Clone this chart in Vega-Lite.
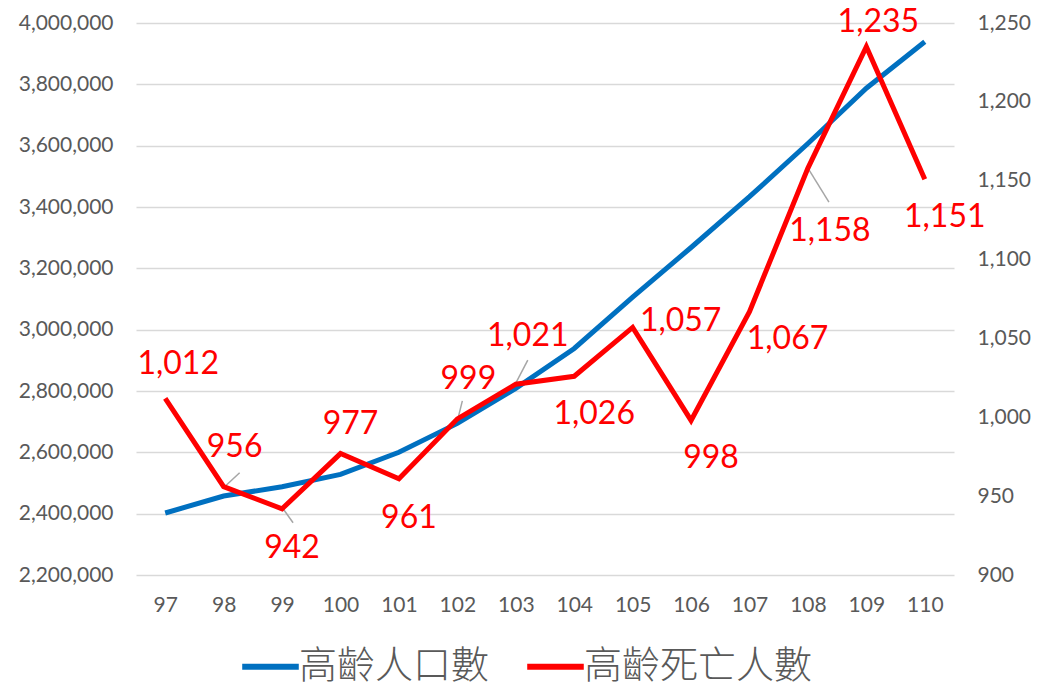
{
  "$schema": "https://vega.github.io/schema/vega-lite/v6.json",
  "autosize": {"type": "none"},
  "width": 818,
  "height": 552,
  "padding": {"left": 136, "top": 23, "right": 84, "bottom": 108},
  "background": "white",
  "config": {
    "view": {"stroke": null},
    "font": "Lato",
    "axis": {"labelFont": "Lato", "labelFontSize": 21, "labelColor": "#595959", "ticks": false, "domain": false, "title": null, "gridColor": "#d9d9d9", "gridWidth": 1.3}
  },
  "data": {
    "values": [
      {"year": 97, "pop": 2402220, "deaths": 1012},
      {"year": 98, "pop": 2457648, "deaths": 956},
      {"year": 99, "pop": 2487893, "deaths": 942},
      {"year": 100, "pop": 2528249, "deaths": 977},
      {"year": 101, "pop": 2600152, "deaths": 961},
      {"year": 102, "pop": 2694406, "deaths": 999},
      {"year": 103, "pop": 2808690, "deaths": 1021},
      {"year": 104, "pop": 2938579, "deaths": 1026},
      {"year": 105, "pop": 3106105, "deaths": 1057},
      {"year": 106, "pop": 3268013, "deaths": 998},
      {"year": 107, "pop": 3433517, "deaths": 1067},
      {"year": 108, "pop": 3607127, "deaths": 1158},
      {"year": 109, "pop": 3787315, "deaths": 1235},
      {"year": 110, "pop": 3939033, "deaths": 1151}
    ]
  },
  "encoding": {
    "x": {"field": "year", "type": "ordinal", "scale": {"type": "point", "padding": 0.5}, "axis": {"labelAngle": 0, "labelPadding": 19, "grid": false}}
  },
  "layer": [
    {
      "mark": {"type": "line", "strokeWidth": 5},
      "encoding": {
        "y": {"field": "pop", "type": "quantitative", "scale": {"domain": [2200000, 4000000], "nice": false, "zero": false}, "axis": {"orient": "left", "values": [2200000, 2400000, 2600000, 2800000, 3000000, 3200000, 3400000, 3600000, 3800000, 4000000], "format": ",.0f", "labelPadding": 23, "grid": true}},
        "color": {"datum": "高齡人口數", "type": "nominal", "scale": {"domain": ["高齡人口數", "高齡死亡人數"], "range": ["#0070C0", "#FF0000"]},
          "legend": {"title": null, "orient": "none", "legendX": 103, "legendY": 612, "direction": "horizontal", "symbolType": "stroke", "symbolSize": 3200, "symbolStrokeWidth": 6, "labelFont": "Noto Sans CJK TC", "labelFontWeight": 300, "labelFontSize": 38, "labelColor": "#595959", "labelOffset": -3, "columnPadding": 25, "labelLimit": 400}}
      }
    },
    {
      "encoding": {
        "y": {"field": "deaths", "type": "quantitative", "scale": {"domain": [900, 1250], "nice": false, "zero": false}, "axis": {"orient": "right", "values": [900, 950, 1000, 1050, 1100, 1150, 1200, 1250], "format": ",.0f", "labelPadding": 23, "grid": false}}
      },
      "layer": [
        {
          "transform": [{"filter": {"field": "year", "equal": 98}}],
          "mark": {"type": "rule", "color": "#a6a6a6", "strokeWidth": 1.5, "xOffset": 2, "yOffset": -1, "x2Offset": 16, "y2Offset": -14},
          "encoding": {"x2": {"field": "year"}, "y2": {"field": "deaths"}}
        },
        {
          "transform": [{"filter": {"field": "year", "equal": 99}}],
          "mark": {"type": "rule", "color": "#a6a6a6", "strokeWidth": 1.5, "xOffset": 1, "yOffset": 0, "x2Offset": 11, "y2Offset": 14},
          "encoding": {"x2": {"field": "year"}, "y2": {"field": "deaths"}}
        },
        {
          "transform": [{"filter": {"field": "year", "equal": 102}}],
          "mark": {"type": "rule", "color": "#a6a6a6", "strokeWidth": 1.5, "xOffset": 1, "yOffset": -2, "x2Offset": 5, "y2Offset": -18},
          "encoding": {"x2": {"field": "year"}, "y2": {"field": "deaths"}}
        },
        {
          "transform": [{"filter": {"field": "year", "equal": 103}}],
          "mark": {"type": "rule", "color": "#a6a6a6", "strokeWidth": 1.5, "xOffset": 0, "yOffset": -1, "x2Offset": 12, "y2Offset": -24},
          "encoding": {"x2": {"field": "year"}, "y2": {"field": "deaths"}}
        },
        {
          "transform": [{"filter": {"field": "year", "equal": 108}}],
          "mark": {"type": "rule", "color": "#a6a6a6", "strokeWidth": 1.5, "xOffset": 0, "yOffset": 0, "x2Offset": 21, "y2Offset": 34},
          "encoding": {"x2": {"field": "year"}, "y2": {"field": "deaths"}}
        },
        {
          "mark": {"type": "line", "strokeWidth": 5},
          "encoding": {"color": {"datum": "高齡死亡人數", "type": "nominal"}}
        },
        {
          "transform": [{"filter": {"field": "year", "oneOf": [98, 102]}}],
          "mark": {"type": "text", "fontSize": 32, "color": "#FF0000", "dx": 11, "dy": -40},
          "encoding": {"text": {"field": "deaths", "type": "quantitative", "format": ","}}
        },
        {
          "transform": [{"filter": {"field": "year", "equal": 97}}],
          "mark": {"type": "text", "fontSize": 32, "color": "#FF0000", "dx": 13, "dy": -34},
          "encoding": {"text": {"field": "deaths", "type": "quantitative", "format": ","}}
        },
        {
          "transform": [{"filter": {"field": "year", "equal": 100}}],
          "mark": {"type": "text", "fontSize": 32, "color": "#FF0000", "dx": 10, "dy": -30},
          "encoding": {"text": {"field": "deaths", "type": "quantitative", "format": ","}}
        },
        {
          "transform": [{"filter": {"field": "year", "equal": 103}}],
          "mark": {"type": "text", "fontSize": 32, "color": "#FF0000", "dx": 12, "dy": -48},
          "encoding": {"text": {"field": "deaths", "type": "quantitative", "format": ","}}
        },
        {
          "transform": [{"filter": {"field": "year", "equal": 109}}],
          "mark": {"type": "text", "fontSize": 32, "color": "#FF0000", "dx": 12, "dy": -25},
          "encoding": {"text": {"field": "deaths", "type": "quantitative", "format": ","}}
        },
        {
          "transform": [{"filter": {"field": "year", "oneOf": [99, 101]}}],
          "mark": {"type": "text", "fontSize": 32, "color": "#FF0000", "dx": 10, "dy": 39},
          "encoding": {"text": {"field": "deaths", "type": "quantitative", "format": ","}}
        },
        {
          "transform": [{"filter": {"field": "year", "oneOf": [104, 106, 110]}}],
          "mark": {"type": "text", "fontSize": 32, "color": "#FF0000", "dx": 20, "dy": 38},
          "encoding": {"text": {"field": "deaths", "type": "quantitative", "format": ","}}
        },
        {
          "transform": [{"filter": {"field": "year", "equal": 105}}],
          "mark": {"type": "text", "fontSize": 32, "color": "#FF0000", "dx": 48, "dy": -6},
          "encoding": {"text": {"field": "deaths", "type": "quantitative", "format": ","}}
        },
        {
          "transform": [{"filter": {"field": "year", "equal": 107}}],
          "mark": {"type": "text", "fontSize": 32, "color": "#FF0000", "dx": 38, "dy": 27},
          "encoding": {"text": {"field": "deaths", "type": "quantitative", "format": ","}}
        },
        {
          "transform": [{"filter": {"field": "year", "equal": 108}}],
          "mark": {"type": "text", "fontSize": 32, "color": "#FF0000", "dx": 22, "dy": 63},
          "encoding": {"text": {"field": "deaths", "type": "quantitative", "format": ","}}
        }
      ]
    }
  ],
  "resolve": {"scale": {"y": "independent"}}
}
